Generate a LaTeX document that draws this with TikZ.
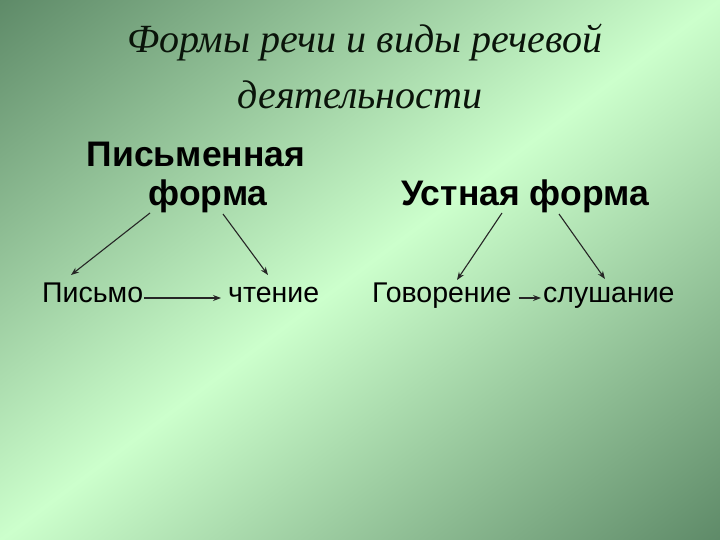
\documentclass[tikz,border=0pt]{standalone}
\usepackage{fontspec}
\setmainfont{Liberation Sans}
\newfontfamily\titlefont{Liberation Serif}
\usetikzlibrary{arrows.meta}
\definecolor{bgdark}{RGB}{94,138,104}
\definecolor{bglight}{RGB}{204,255,204}
\definecolor{ink}{RGB}{10,20,10}
\pgfdeclareverticalshading{bgsh}{1400bp}{color(0bp)=(bgdark); color(432bp)=(bglight); color(864bp)=(bgdark)}
\tikzset{
  ttl/.style={font=\titlefont\itshape\fontsize{40}{42}\selectfont, text=ink, inner sep=0pt},
  head/.style={font=\bfseries\fontsize{35.5}{39}\selectfont, text=black, inner sep=0pt, align=center},
  leaf/.style={font=\fontsize{28.5}{30}\selectfont, text=black, inner sep=0pt},
  conn/.style={draw=black!85, line width=1.1pt, -{Stealth[length=8pt,width=6pt]}}
}
\begin{document}
\begin{tikzpicture}[x=1pt,y=-1pt]
\begin{scope}
\clip (0,0) rectangle (720,540);
\node[inner sep=0pt, rotate=36.87] (bg) at (360,270) {\pgfuseshading{bgsh}};
\end{scope}
\useasboundingbox (0,0) rectangle (720,540);
\node[ttl] (t1) at (365,43) {Формы речи и виды речевой};
\node[ttl] (t2) at (360,95) {деятельности};
\node[head, anchor=base] (pf) at (196,206) {Письменная\\\hspace*{24pt}форма};
\node[head, anchor=base] (uf) at (525,206) {Устная форма};
\node[leaf, anchor=base west] (p) at (42,302) {Письмо};
\node[leaf, anchor=base west] (c) at (228,302) {чтение};
\node[leaf, anchor=base west] (g) at (372,302) {Говорение};
\node[leaf, anchor=base west] (s) at (543,302) {слушание};
\coordinate (pfl) at (150,213);
\coordinate (pfr) at (223,214);
\coordinate (ufl) at (502,213);
\coordinate (ufr) at (559,214);
\coordinate (pt) at (71,275);
\coordinate (ct) at (268,275);
\coordinate (gt) at (457,280);
\coordinate (st) at (605,279);
\draw[conn] (pfl) -- (pt);
\draw[conn] (pfr) -- (ct);
\draw[conn] (ufl) -- (gt);
\draw[conn] (ufr) -- (st);
\draw[conn] ([xshift=1pt,yshift=4pt]p.base east) -- ([xshift=-7pt,yshift=4pt]c.base west);
\draw[conn] ([xshift=7pt,yshift=4pt]g.base east) -- ([xshift=-2pt,yshift=4pt]s.base west);
\end{tikzpicture}
\end{document}
